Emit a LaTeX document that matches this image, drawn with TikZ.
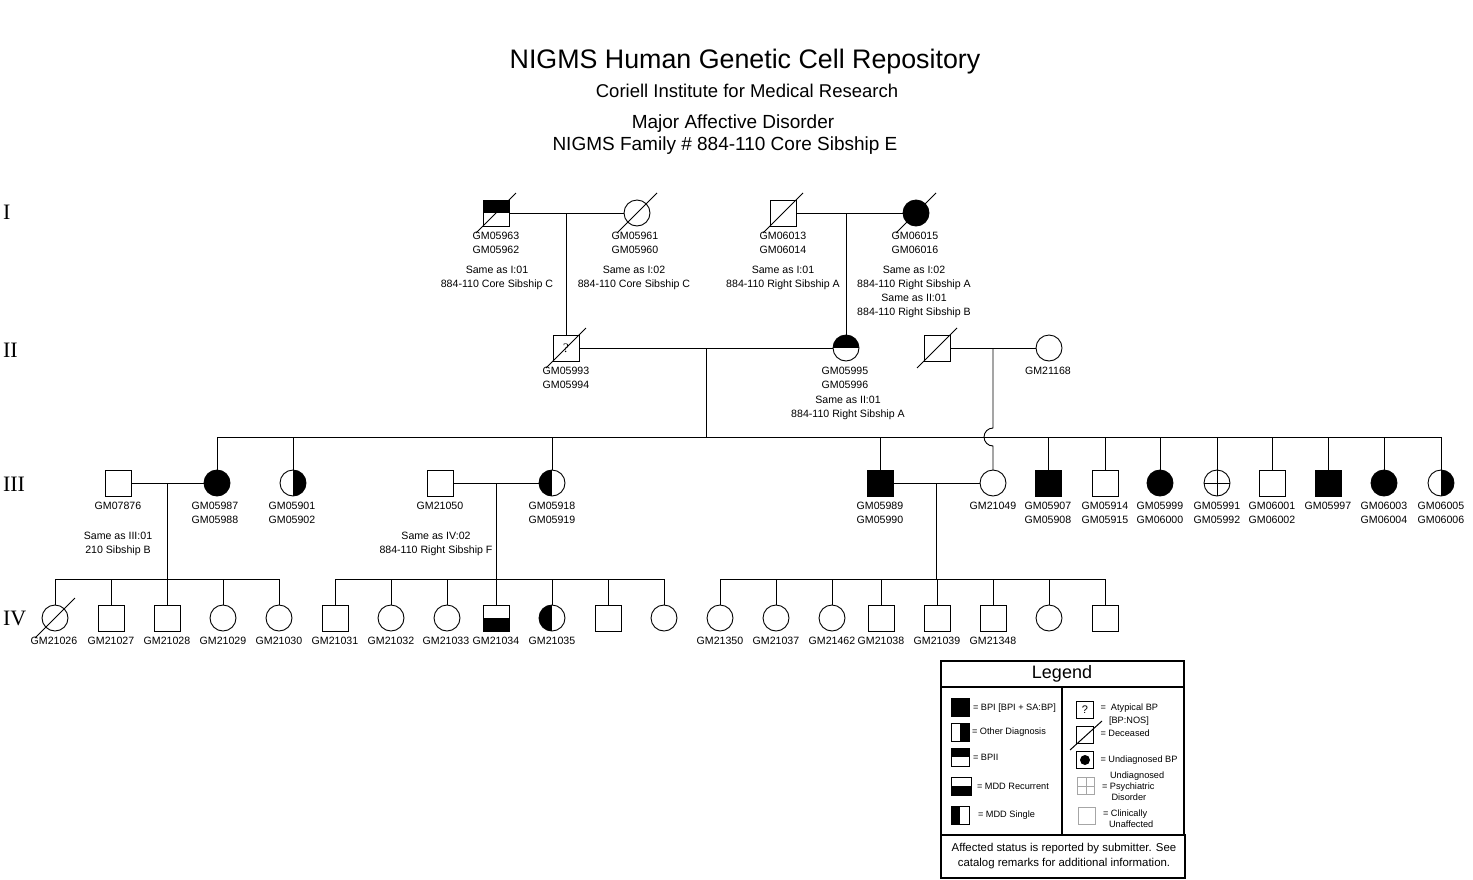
\documentclass[tikz,border=0pt]{standalone}
\usepackage{fontspec}
\setmainfont{Liberation Sans}
\newfontfamily\genfont{Liberation Serif}
\usetikzlibrary{calc}
\newcommand\labfont{\fontsize{10.6}{14}\selectfont}
\newcommand\legfont{\fontsize{9.2}{11}\selectfont}
\newcommand\deceasedmark[1]{\draw[ln] (#1.center) ++(-20,20) -- ++(40,-40);}
\begin{document}
\begin{tikzpicture}[x=1pt,y=-1pt,
  every node/.style={inner sep=0pt, outer sep=0pt},
  ln/.style={line width=0.9pt},
  ind/.style={draw, line width=0.9pt, minimum size=26pt, inner sep=0pt},
  male/.style={ind, rectangle},
  female/.style={ind, circle},
  aff/.style={fill=black},
  tophalf/.style={path picture={\fill[black] (path picture bounding box.north west) rectangle (path picture bounding box.east);}},
  bottomhalf/.style={path picture={\fill[black] (path picture bounding box.west) rectangle (path picture bounding box.south east);}},
  lefthalf/.style={path picture={\fill[black] (path picture bounding box.north west) rectangle (path picture bounding box.south);}},
  righthalf/.style={path picture={\fill[black] (path picture bounding box.north) rectangle (path picture bounding box.south east);}},
  crossmark/.style={path picture={\draw[line width=0.9pt] (path picture bounding box.west) -- (path picture bounding box.east) (path picture bounding box.north) -- (path picture bounding box.south);}},
  lab/.style={font=\labfont, align=center, anchor=north},
  gen/.style={font=\genfont\fontsize{22}{22}\selectfont, anchor=west},
  lg/.style={line width=1.3pt},
  lsq/.style={draw, line width=0.9pt, minimum size=18pt, inner sep=0pt},
  ltx/.style={font=\legfont, anchor=base west},
]
\useasboundingbox (0,0) rectangle (1473,879);

% titles
\node (t1) at (745,62) {\fontsize{26.8}{28}\selectfont NIGMS Human Genetic Cell Repository};
\node (t2) at (747,91) {\fontsize{18.5}{20}\selectfont Coriell Institute for Medical Research};
\node (t3) at (733,124) {\fontsize{19}{20}\selectfont Major Affective Disorder};
\node (t4) at (725,146) {\fontsize{19}{20}\selectfont NIGMS Family \# 884-110 Core Sibship E};

% generation labels
\node[gen] (gI) at (3,212) {I};
\node[gen] (gII) at (3,350) {II};
\node[gen] (gIII) at (3,484) {III};
\node[gen] (gIV) at (3,618) {IV};

% generation I
\node[male, tophalf] (i1) at (496,213) {};
\node[female] (i2) at (637,213) {};
\node[male] (i3) at (783,213) {};
\node[female, aff] (i4) at (916,213) {};
\deceasedmark{i1}\deceasedmark{i2}\deceasedmark{i3}\deceasedmark{i4}

% generation II
\node[male] (ii1) at (566,348) {\genfont\fontsize{13}{13}\selectfont ?};
\node[female, tophalf] (ii2) at (846,348) {};
\node[male] (ii3) at (937,348) {};
\node[female] (ii4) at (1049,348) {};
\deceasedmark{ii1}\deceasedmark{ii3}

% generation III
\node[male] (iii1) at (118,483) {};
\node[female, aff] (iii2) at (217,483) {};
\node[female, righthalf] (iii3) at (293,483) {};
\node[male] (iii4) at (440,483) {};
\node[female, lefthalf] (iii5) at (552,483) {};
\node[male, aff] (iii6) at (880,483) {};
\node[female] (iii7) at (993,483) {};
\node[male, aff] (iii8) at (1048,483) {};
\node[male] (iii9) at (1105,483) {};
\node[female, aff] (iii10) at (1160,483) {};
\node[female, crossmark] (iii11) at (1217,483) {};
\node[male] (iii12) at (1272,483) {};
\node[male, aff] (iii13) at (1328,483) {};
\node[female, aff] (iii14) at (1384,483) {};
\node[female, righthalf] (iii15) at (1441,483) {};

% generation IV
\node[female] (iv1) at (55,618) {};
\node[male] (iv2) at (111,618) {};
\node[male] (iv3) at (167,618) {};
\node[female] (iv4) at (223,618) {};
\node[female] (iv5) at (279,618) {};
\node[male] (iv6) at (335,618) {};
\node[female] (iv7) at (391,618) {};
\node[female] (iv8) at (447,618) {};
\node[male, bottomhalf] (iv9) at (496,618) {};
\node[female, lefthalf] (iv10) at (552,618) {};
\node[male] (iv11) at (608,618) {};
\node[female] (iv12) at (664,618) {};
\node[female] (iv13) at (720,618) {};
\node[female] (iv14) at (776,618) {};
\node[female] (iv15) at (832,618) {};
\node[male] (iv16) at (881,618) {};
\node[male] (iv17) at (937,618) {};
\node[male] (iv18) at (993,618) {};
\node[female] (iv19) at (1049,618) {};
\node[male] (iv20) at (1105,618) {};
\deceasedmark{iv1}

% connectors generation I -> II
\draw[ln] (i1.east) -- (i2.west);
\draw[ln] (ii1.north) -- (ii1.north |- i1.east);
\draw[ln] (i3.east) -- (i4.west);
\draw[ln] (ii2.north) -- (ii2.north |- i3.east);

% generation II -> III
\draw[ln] (ii1.east) -- (ii2.west);
\coordinate (m3) at ($(ii1.east)!0.5!(ii2.west)$);
\coordinate (s3) at (m3 |- 0,437);
\draw[ln] (m3) -- (s3);
\draw[ln] (iii2 |- s3) -- (iii15 |- s3);
\foreach \c in {iii2,iii3,iii5,iii6,iii8,iii9,iii10,iii11,iii12,iii13,iii14,iii15}
  \draw[ln] (\c.north) -- (\c |- s3);
\draw[ln] (ii3.east) -- (ii4.west);
\coordinate (m4) at ($(ii3.east)!0.5!(ii4.west)$);
\draw[ln] (m4) -- ([yshift=9pt]iii7 |- s3) arc[start angle=270, end angle=90, radius=9] -- (iii7.north);

% generation III -> IV
\draw[ln] (iii1.east) -- (iii2.west);
\coordinate (m5) at ($(iii1.east)!0.5!(iii2.west)$);
\coordinate (s4) at (m5 |- 0,579);
\draw[ln] (m5) -- (s4);
\draw[ln] (iv1 |- s4) -- (iv5 |- s4);
\foreach \c in {iv1,iv2,iv3,iv4,iv5} \draw[ln] (\c.north) -- (\c |- s4);

\draw[ln] (iii4.east) -- (iii5.west);
\coordinate (m6) at ($(iii4.east)!0.5!(iii5.west)$);
\draw[ln] (m6) -- (m6 |- s4);
\draw[ln] (iv6 |- s4) -- (iv12 |- s4);
\foreach \c in {iv6,iv7,iv8,iv9,iv10,iv11,iv12} \draw[ln] (\c.north) -- (\c |- s4);

\draw[ln] (iii6.east) -- (iii7.west);
\coordinate (m7) at ($(iii6.east)!0.5!(iii7.west)$);
\draw[ln] (m7) -- (m7 |- s4);
\draw[ln] (iv13 |- s4) -- (iv20 |- s4);
\foreach \c in {iv13,iv14,iv15,iv16,iv17,iv18,iv19,iv20} \draw[ln] (\c.north) -- (\c |- s4);

% labels generation I
\node[lab] (li1) at (496,232) {GM05963\\GM05962};
\node[lab] (ni1) at (497,266) {Same as I:01\\884-110 Core Sibship C};
\node[lab] (li2) at (635,232) {GM05961\\GM05960};
\node[lab] (ni2) at (634,266) {Same as I:02\\884-110 Core Sibship C};
\node[lab] (li3) at (783,232) {GM06013\\GM06014};
\node[lab] (ni3) at (783,266) {Same as I:01\\884-110 Right Sibship A};
\node[lab] (li4) at (915,232) {GM06015\\GM06016};
\node[lab] (ni4) at (914,266) {Same as I:02\\884-110 Right Sibship A\\Same as II:01\\884-110 Right Sibship B};

% labels generation II
\node[lab] (lii1) at (566,367) {GM05993\\GM05994};
\node[lab] (lii2) at (845,367) {GM05995\\GM05996};
\node[lab] (nii2) at (848,396) {Same as II:01\\884-110 Right Sibship A};
\node[lab] (lii4) at (1048,367) {GM21168};

% labels generation III
\node[lab] (liii1) at (118,502) {GM07876};
\node[lab] (liii2) at (215,502) {GM05987\\GM05988};
\node[lab] (liii3) at (292,502) {GM05901\\GM05902};
\node[lab] (liii4) at (440,502) {GM21050};
\node[lab] (liii5) at (552,502) {GM05918\\GM05919};
\node[lab] (liii6) at (880,502) {GM05989\\GM05990};
\node[lab] (liii7) at (993,502) {GM21049};
\node[lab] (liii8) at (1048,502) {GM05907\\GM05908};
\node[lab] (liii9) at (1105,502) {GM05914\\GM05915};
\node[lab] (liii10) at (1160,502) {GM05999\\GM06000};
\node[lab] (liii11) at (1217,502) {GM05991\\GM05992};
\node[lab] (liii12) at (1272,502) {GM06001\\GM06002};
\node[lab] (liii13) at (1328,502) {GM05997};
\node[lab] (liii14) at (1384,502) {GM06003\\GM06004};
\node[lab] (liii15) at (1441,502) {GM06005\\GM06006};
\node[lab] (niii1) at (118,532) {Same as III:01\\210 Sibship B};
\node[lab] (niii4) at (436,532) {Same as IV:02\\884-110 Right Sibship F};

% labels generation IV
\foreach \c/\x/\t in {iv1/54/GM21026, iv2/111/GM21027, iv3/167/GM21028, iv4/223/GM21029,
  iv5/279/GM21030, iv6/335/GM21031, iv7/391/GM21032, iv8/446/GM21033, iv9/496/GM21034,
  iv10/552/GM21035, iv13/720/GM21350, iv14/776/GM21037, iv15/832/GM21462,
  iv16/881/GM21038, iv17/937/GM21039, iv18/993/GM21348}
  \node[lab] (l\c) at (\x,637) {\t};

% legend
\draw[lg] (941,661) rectangle (1184,835);
\draw[lg] (941,687) -- (1184,687);
\draw[lg] (1062,687) -- (1062,835);
\draw[lg] (941,835) rectangle (1185,878);
\node (legtitle) at (1062,674) {\fontsize{18}{20}\selectfont Legend};
\node[align=center, font=\fontsize{11.4}{15}\selectfont] (legnote) at (1064,856)
  {Affected status is reported by submitter. See\\catalog remarks for additional information.};

\node[lsq, fill=black] (k1) at (960,707) {};
\node[lsq, righthalf] (k2) at (960,732) {};
\node[lsq, tophalf] (k3) at (960,757) {};
\node[lsq, bottomhalf, minimum width=20pt] (k4) at (961,786) {};
\node[lsq, lefthalf] (k5) at (960,815) {};
\node[ltx] (kt1) at (973,710.3) {= BPI [BPI + SA:BP]};
\node[ltx] (kt2) at (972,734.3) {= Other Diagnosis};
\node[ltx] (kt3) at (973,760) {= BPII};
\node[ltx] (kt4) at (977,789) {= MDD Recurrent};
\node[ltx] (kt5) at (978,817.3) {= MDD Single};

\node[lsq, minimum size=17pt] (k6) at (1085,710) {\fontsize{11}{11}\selectfont ?};
\node[lsq, minimum size=17pt] (k7) at (1085,735) {};
\draw[line width=1pt] (k7.center) ++(-15,15) -- ++(32,-29);
\node[lsq, minimum size=17pt] (k8) at (1085,760) {};
\fill (k8.center) circle[radius=5];
\node[lsq, minimum size=17pt, draw=gray!70, path picture={\draw[gray!70, line width=0.9pt] (path picture bounding box.west) -- (path picture bounding box.east) (path picture bounding box.north) -- (path picture bounding box.south);}] (k9) at (1086,786) {};
\node[lsq, minimum size=17pt, draw=gray!70] (k10) at (1087,816) {};
\node[ltx] (kt6) at (1100.5,710.6) {=\ \ Atypical BP};
\node[ltx] (kt6b) at (1109,723.3) {[BP:NOS]};
\node[ltx] (kt7) at (1100.5,736.3) {= Deceased};
\node[ltx] (kt8) at (1100.5,762.3) {= Undiagnosed BP};
\node[ltx] (kt9a) at (1110,778.3) {Undiagnosed};
\node[ltx] (kt9b) at (1102,789) {= Psychiatric};
\node[ltx] (kt9c) at (1111.5,800) {Disorder};
\node[ltx] (kt10a) at (1103,816.3) {= Clinically};
\node[ltx] (kt10b) at (1109,827.3) {Unaffected};
\end{tikzpicture}
\end{document}
